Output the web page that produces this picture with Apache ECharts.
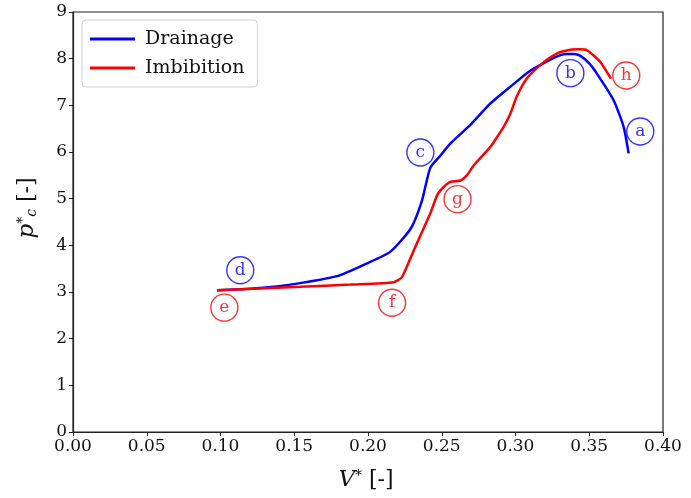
<!DOCTYPE html>
<html>
<head>
<meta charset="utf-8">
<script src="https://cdn.jsdelivr.net/npm/echarts@6/dist/echarts.min.js"></script>
<style>html,body{margin:0;padding:0;background:#fff;}#c{width:691px;height:498px;}</style>
</head>
<body>
<div id="c"></div>
<script>
// ---- data ----
const drainageV = [0.0976,0.120,0.138,0.154,0.179,0.199,0.215,0.229,0.2366,0.2422,0.249,0.2558,0.2694,0.283,0.2965,0.310,0.3236,0.3300,0.3349,0.3395,0.3440,0.3500,0.3552,0.3665,0.3733,0.3767];
const drainageP = [3.04,3.07,3.12,3.19,3.34,3.61,3.86,4.36,4.96,5.66,5.92,6.18,6.58,7.04,7.40,7.74,7.98,8.07,8.10,8.10,8.06,7.90,7.68,7.11,6.54,5.97];
const imbibitionV = [0.0976,0.154,0.188,0.2174,0.223,0.231,0.2422,0.2470,0.2513,0.2558,0.2626,0.267,0.2716,0.283,0.2875,0.292,0.2965,0.301,0.3078,0.319,0.328,0.3372,0.3430,0.3485,0.3575,0.3647];
const imbibitionP = [3.04,3.11,3.16,3.21,3.32,3.89,4.68,5.08,5.25,5.36,5.39,5.50,5.71,6.11,6.32,6.54,6.82,7.20,7.58,7.92,8.11,8.19,8.20,8.18,7.93,7.57];
const drainageMarks = ['a','b','c','d'];
const drainageMarkV = [0.3846,0.3372,0.2355,0.1134];
const drainageMarkP = [6.44,7.69,5.99,3.465];
const imbibitionMarks = ['e','f','g','h'];
const imbibitionMarkV = [0.1026,0.2163,0.2607,0.3751];
const imbibitionMarkP = [2.665,2.77,4.99,7.64];
const xTicks = [0,0.05,0.10,0.15,0.20,0.25,0.30,0.35,0.40];
const yTicks = [0,1,2,3,4,5,6,7,8,9];

const zip = (a,b) => a.map((v,i)=>[v,b[i]]);
const zip3 = (a,b,c) => a.map((v,i)=>[v,b[i],c[i]]);
const FONT = 'DejaVu Serif';
const BLUE = '#0000ff', RED = '#ff0000';

function markSeries(data, color){
  return {
    type:'scatter', data:data, symbol:'circle', symbolSize:27, z:5,
    itemStyle:{color:'#ffffff', borderColor:color, borderWidth:1.4},
    label:{show:true, position:'inside', formatter:p=>p.data[2], color:color,
           fontFamily:FONT, fontSize:17},
    silent:true, tooltip:{show:false}
  };
}

const chart = echarts.init(document.getElementById('c'), null, {renderer:'canvas'});
chart.setOption({
  animation:false,
  backgroundColor:'#ffffff',
  grid:{left:73, right:28, top:12, bottom:66, show:true, borderColor:'#222', borderWidth:1.2, backgroundColor:'transparent'},
  legend:{
    data:['Drainage','Imbibition'], orient:'vertical', left:82, top:20,
    icon:'rect', itemWidth:45, itemHeight:3, itemGap:9,
    padding:[9,13,9,8], backgroundColor:'rgba(255,255,255,0.8)',
    borderColor:'#d0d0d0', borderWidth:1, borderRadius:4,
    textStyle:{fontFamily:FONT, fontSize:19, color:'#111', lineHeight:20, padding:[0,0,0,5]}
  },
  xAxis:{
    type:'value', min:xTicks[0], max:xTicks[xTicks.length-1], interval:0.05,
    name:'{i|V}{sup|*} [-]', nameLocation:'middle', nameGap:37,
    nameTextStyle:{rich:{
      i:{fontFamily:FONT, fontStyle:'italic', fontSize:23, color:'#111'},
      sup:{fontFamily:FONT, fontSize:14, color:'#111', verticalAlign:'top', padding:[0,0,8,0]}
    }, fontFamily:FONT, fontSize:22, color:'#111', padding:[0,0,0,-4]},
    axisLine:{lineStyle:{color:'#222', width:1.2}},
    axisTick:{show:true, inside:false, length:4, lineStyle:{color:'#222'}},
    axisLabel:{fontFamily:FONT, fontSize:17, color:'#111', margin:6, formatter:v=>v.toFixed(2)},
    splitLine:{show:false}
  },
  yAxis:{
    type:'value', min:yTicks[0], max:yTicks[yTicks.length-1], interval:1,
    name:'{i|p}{sup|*}{sub|c} [-]', nameLocation:'middle', nameRotate:90, nameGap:34,
    nameTextStyle:{rich:{
      i:{fontFamily:FONT, fontStyle:'italic', fontSize:23, color:'#111'},
      sup:{fontFamily:FONT, fontSize:14, color:'#111', verticalAlign:'top'},
      sub:{fontFamily:FONT, fontStyle:'italic', fontSize:14, color:'#111', verticalAlign:'bottom'}
    }, fontFamily:FONT, fontSize:22, color:'#111', padding:[0,0,0,28]},
    axisLine:{lineStyle:{color:'#222', width:1.2}},
    axisTick:{show:true, inside:false, length:4, lineStyle:{color:'#222'}},
    axisLabel:{fontFamily:FONT, fontSize:17, color:'#111', margin:6},
    splitLine:{show:false}
  },
  series:[
    {name:'Drainage', type:'line', data:zip(drainageV,drainageP), showSymbol:false, smooth:0.2,
     lineStyle:{color:BLUE, width:2.5}, itemStyle:{color:BLUE}, z:3},
    {name:'Imbibition', type:'line', data:zip(imbibitionV,imbibitionP), showSymbol:false, smooth:0.2,
     lineStyle:{color:RED, width:2.5}, itemStyle:{color:RED}, z:4},
    markSeries(zip3(drainageMarkV,drainageMarkP,drainageMarks), BLUE),
    markSeries(zip3(imbibitionMarkV,imbibitionMarkP,imbibitionMarks), RED)
  ]
});
</script>
</body>
</html>
